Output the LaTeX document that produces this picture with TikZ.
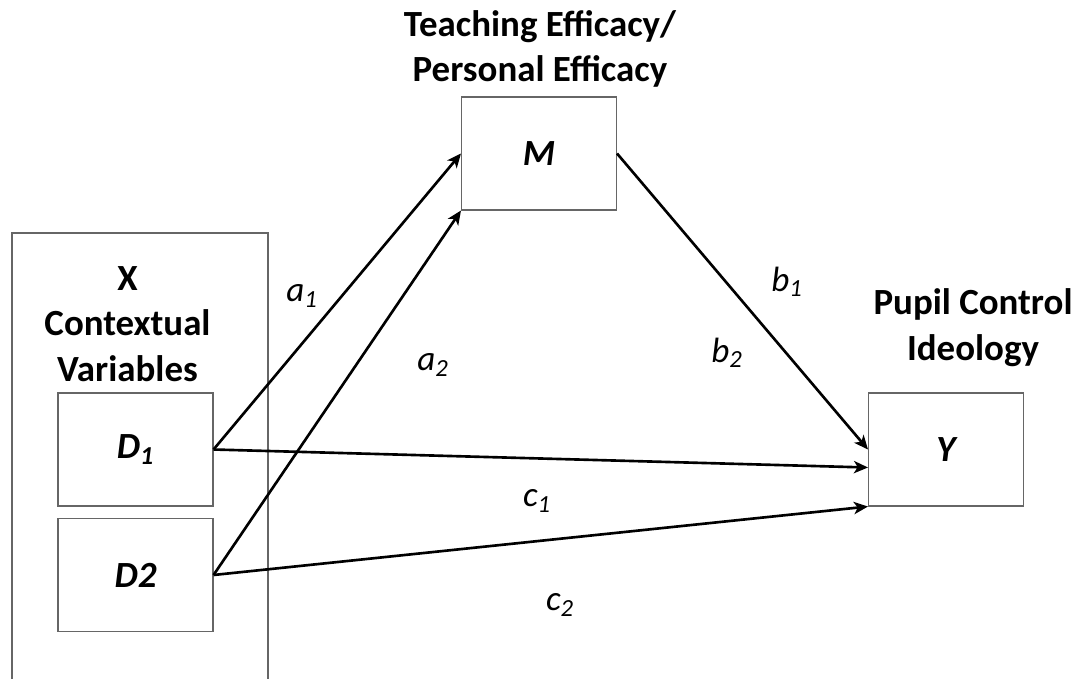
\documentclass[tikz,border=0pt]{standalone}
\usepackage{fontspec}
\setmainfont{Carlito}
\usetikzlibrary{arrows.meta}

\newcommand{\headfont}{\fontsize{21}{26}\selectfont\bfseries}
\newcommand{\varfont}{\fontsize{21}{25}\selectfont\bfseries\itshape}
\newcommand{\coeffont}{\fontsize{20}{24}\selectfont\itshape}

\begin{document}
\begin{tikzpicture}[
        > = {Stealth[length = 8pt, width = 7pt, inset = 2.2pt]},
        varbox/.style = {%
            draw = black!60,
            line width = 0.6pt,
            minimum width = 3.1cm,
            minimum height = 2.26cm,
            font = \varfont
        },
        heading/.style = {align = center, font = \headfont},
        coef/.style = {font = \coeffont},
        effect/.style = {->, line width = 1.5pt}
    ]

        % Page size.
        \useasboundingbox (0, 0) rectangle (21.72, 13.56);

        % Outer box for the contextual variables.
        \node[draw = black!60, line width = 0.6pt, minimum width = 5.12cm,
              minimum height = 9.02cm] (X) at (2.8, 4.39) {};

        % Variable boxes.
        \node[varbox] (D1) at (2.71, 4.57) {D\textsubscript{1}};
        \node[varbox] (D2) at (2.71, 2.06) {D2};
        \node[varbox] (M)  at (10.78, 10.49) {M};
        \node[varbox] (Y)  at (18.92, 4.57) {Y};

        % Headings.
        \node[heading] (Xhead) at (2.55, 7.08) {X\\Contextual\\Variables};
        \node[heading] (Mhead) at (10.8, 12.58) {Teaching Efficacy/\\Personal Efficacy};
        \node[heading] (Yhead) at (19.46, 7.0) {Pupil Control\\Ideology};

        % Paths.
        \draw[effect] (D1.east) to (M.west);
        \draw[effect] (D2.east) to (M.south west);
        \draw[effect] (M.east) to (Y.west);
        \draw[effect] (D1.east) to ([yshift = -0.36cm]Y.west);
        \draw[effect] (D2.east) to (Y.south west);

        % Labels.
        \foreach \l/\n/\x/\y in {a/1/6.04/7.64, a/2/8.66/6.26, b/1/15.74/7.92,
                                 b/2/14.54/6.5, c/1/10.74/3.54, c/2/11.2/1.46}{%
            \node[coef] (\l\n) at (\x, \y) {\l\textsubscript{\n}};
        }
    \end{tikzpicture}
\end{document}
